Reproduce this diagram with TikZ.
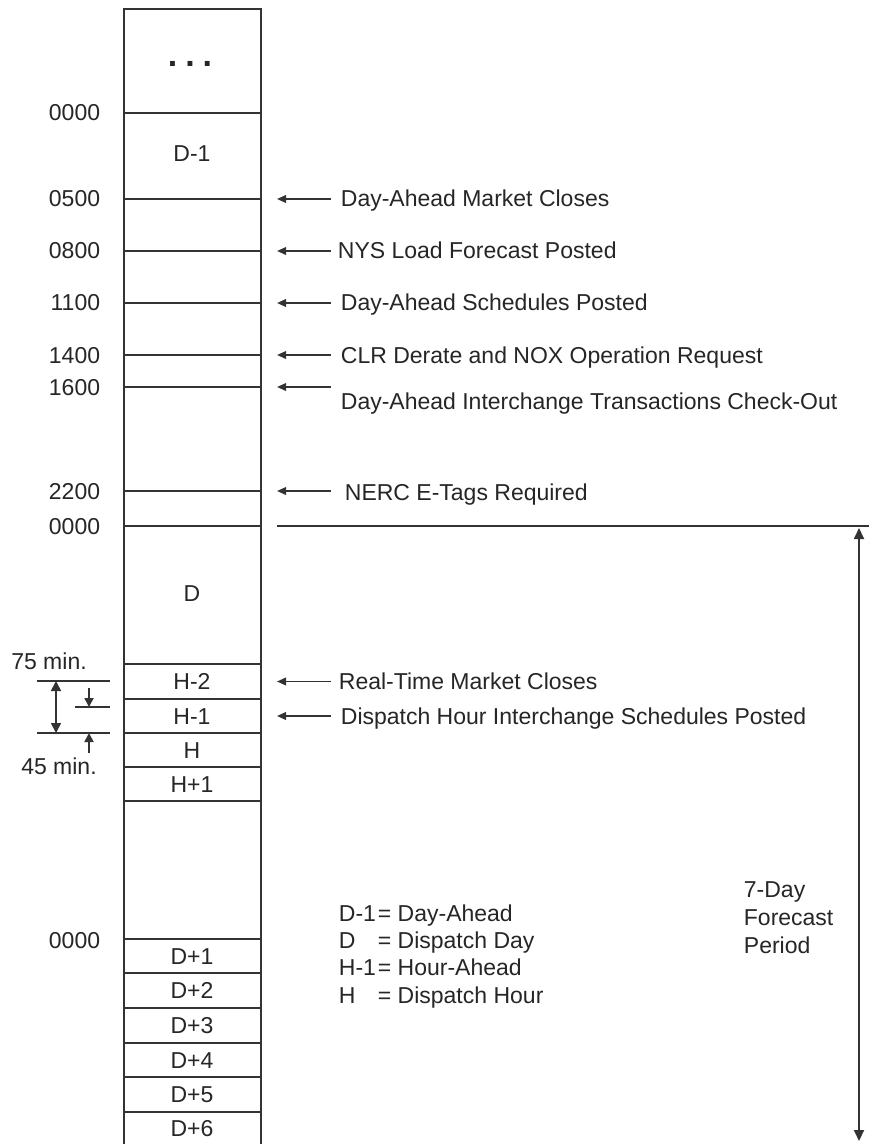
\documentclass[tikz,border=0pt]{standalone}
\usepackage{fontspec}
\setmainfont{Liberation Sans}
\usetikzlibrary{arrows.meta}
\begin{document}
\begin{tikzpicture}[x=0.5pt,y=-0.5pt, line width=0.9pt, draw=black!80,
  every node/.style={font=\fontsize{11.5}{13.5}\selectfont, inner sep=0pt, text=black!85},
  tlabel/.style={anchor=base east},
  note/.style={anchor=base west},
  boxlabel/.style={anchor=base},
  leftarrow/.style={-{Triangle[length=4.5pt,width=3.8pt]}},
  dimarrow/.style={-{Triangle[length=4.5pt,width=4.5pt]}},
  longarrow/.style={{Triangle[length=5.5pt,width=5pt]}-{Triangle[length=5.5pt,width=5pt]}},
]
\useasboundingbox (0,0) rectangle (869,1144);
\fill[white] (0,0) rectangle (869,1144);
% column
\draw (124,1146) -- (124,9) -- (261,9) -- (261,1146);
\foreach \y in {113,199,251,303,355,387,491,526,664,699,733,767,801,939,973,1008,1043,1077,1112}
  \draw (124,\y) -- (261,\y);

% time labels
\foreach \y/\t [count=\i] in {113/0000,199/0500,251/0800,303/1100,355/1400,387/1600,491/2200,526/0000,940/0000}
  \node[tlabel] (t\i) at (101,\y+8) {\t};

% box labels
\node (dots) at (190,64) {\fontsize{17}{17}\selectfont\bfseries .\kern4pt.\kern4pt.};
\foreach \y/\t [count=\i] in {154/D-1,593/D,681.5/H-2,716/H-1,750/H,784/H+1,956/D+1,990.5/D+2,1025.5/D+3,1060/D+4,1094.5/D+5,1128/D+6}
  \node[boxlabel] (b\i) at (192,\y+8) {\t};

% right-hand notes with arrows
\foreach \y/\ty/\xx/\t [count=\i] in {
  199/199/340/Day-Ahead Market Closes,
  251/251/337/NYS Load Forecast Posted,
  303/303/340/Day-Ahead Schedules Posted,
  355/355/340/CLR Derate and NOX Operation Request,
  387/401/340/Day-Ahead Interchange Transactions Check-Out,
  491/492/344/NERC E-Tags Required,
  681.5/681.5/338/Real-Time Market Closes,
  716/716/340/Dispatch Hour Interchange Schedules Posted}
{
  \node[note] (n\i) at (\xx,\ty+8) {\t};
  \coordinate (s\i) at (331,\y);
  \coordinate (e\i) at (277,\y);
  \draw[leftarrow] (s\i) -- (e\i);
}

% 7-day forecast period
\coordinate (lineA) at (277,526);
\coordinate (lineB) at (869,526);
\draw (lineA) -- (lineB);
\coordinate (arrTop) at (859,528);
\coordinate (arrBot) at (859,1141);
\draw[longarrow] (arrTop) -- (arrBot);
\foreach \y/\t [count=\i] in {889/7-Day,917/Forecast,945/Period}
  \node[anchor=base west] (fc\i) at (743,\y+8) {\t};

% legend
\foreach \y/\a/\b [count=\i] in {913/D-1/= Day-Ahead,940/D/= Dispatch Day,967/H-1/= Hour-Ahead,995/H/= Dispatch Hour}
{
  \node[anchor=base west] (la\i) at (338,\y+8) {\a};
  \node[anchor=base west] (lb\i) at (377,\y+8) {\b};
}

% 75 / 45 min dimension
\coordinate (d1a) at (37,681);  \coordinate (d1b) at (110,681);
\coordinate (d2a) at (75,707);  \coordinate (d2b) at (110,707);
\coordinate (d3a) at (37,733);  \coordinate (d3b) at (110,733);
\draw (d1a) -- (d1b);
\draw (d2a) -- (d2b);
\draw (d3a) -- (d3b);
\coordinate (v1) at (56,681); \coordinate (v2) at (56,733);
\draw[{Triangle[length=5pt,width=5pt]}-{Triangle[length=5pt,width=5pt]}] (v1) -- (v2);
\coordinate (sa1) at (89,688); \coordinate (sa2) at (89,707);
\draw[dimarrow] (sa1) -- (sa2);
\coordinate (sb1) at (89,753); \coordinate (sb2) at (89,733);
\draw[dimarrow] (sb1) -- (sb2);
\node (m75) at (49,661) {75 min.};
\node (m45) at (59,766) {45 min.};
\end{tikzpicture}
\end{document}
